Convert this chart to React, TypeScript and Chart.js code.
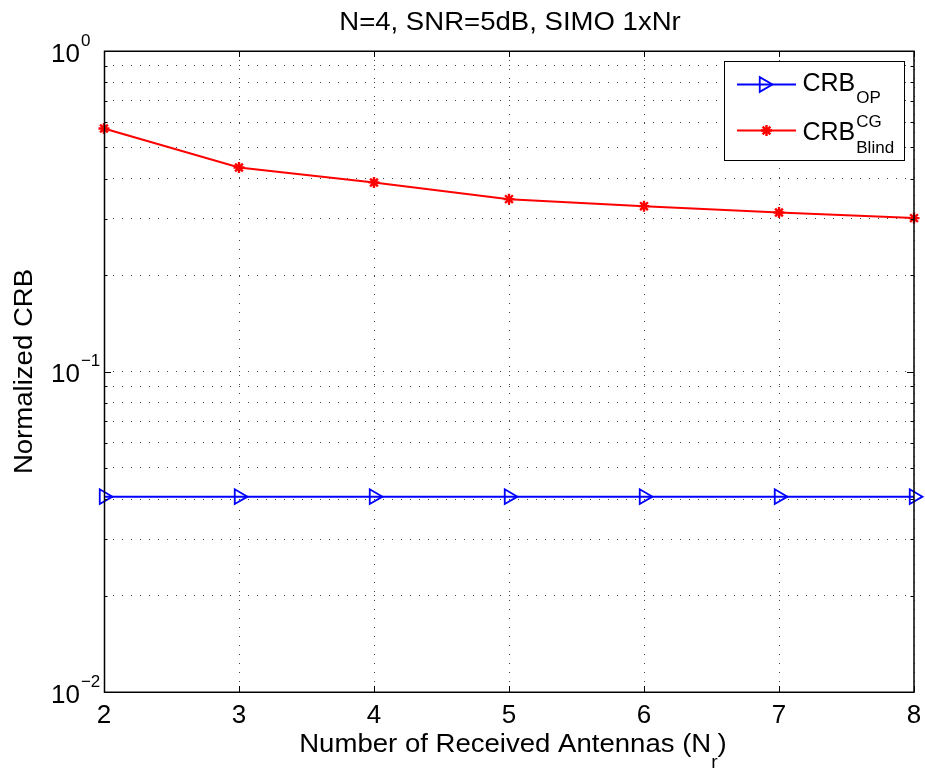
import React, { useEffect, useRef } from "react";
import { Chart, registerables } from "chart.js";

Chart.register(...registerables);

// ---- data ----
const antennas = [2, 3, 4, 5, 6, 7, 8];
const crbOP = [0.0407, 0.0407, 0.0407, 0.0407, 0.0407, 0.0407, 0.0407];
const crbBlind = [0.573, 0.433, 0.389, 0.345, 0.328, 0.3135, 0.301];

// ---- ticks / labels ----
const xTicks = [2, 3, 4, 5, 6, 7, 8];
const yDecades = [0.01, 0.1, 1];
const yDecadeExponents = ["\u22122", "\u22121", "0"];
const yMinorMultipliers = [2, 3, 4, 5, 6, 7, 8, 9];
const titleText = "N=4, SNR=5dB, SIMO 1xNr";
const xLabelMain = "Number of Received Antennas (N";
const xLabelSub = "r";
const xLabelEnd = ")";
const yLabelText = "Normalized CRB";
const legendBase = "CRB";
const legendOPSub = "OP";
const legendBlindSup = "CG";
const legendBlindSub = "Blind";

const FONT = '"Liberation Sans", Arial, Helvetica, sans-serif';
const STRETCH = 1.06;

function yTickValues(): number[] {
  const vals: number[] = [];
  for (let i = 0; i < yDecades.length; i++) {
    vals.push(yDecades[i]);
    if (i < yDecades.length - 1) {
      for (const m of yMinorMultipliers) vals.push(m * yDecades[i]);
    }
  }
  return vals;
}

function txt(
  ctx: CanvasRenderingContext2D,
  text: string,
  x: number,
  y: number,
  size: number,
  sx = 1,
  align: "left" | "center" | "right" = "left"
): number {
  ctx.save();
  ctx.font = `${size}px ${FONT}`;
  ctx.textAlign = "left";
  ctx.textBaseline = "alphabetic";
  ctx.fillStyle = "#000";
  const w = ctx.measureText(text).width * sx;
  const x0 = align === "center" ? x - w / 2 : align === "right" ? x - w : x;
  ctx.translate(x0, y);
  ctx.scale(sx, 1);
  ctx.fillText(text, 0, 0);
  ctx.restore();
  return w;
}

function measure(ctx: CanvasRenderingContext2D, text: string, size: number, sx = 1) {
  ctx.save();
  ctx.font = `${size}px ${FONT}`;
  const w = ctx.measureText(text).width * sx;
  ctx.restore();
  return w;
}

function drawTriangleRight(ctx: CanvasRenderingContext2D, x: number, y: number, r: number, color: string, lw: number) {
  ctx.save();
  ctx.strokeStyle = color;
  ctx.lineWidth = lw;
  ctx.setLineDash([]);
  ctx.beginPath();
  let rad = Math.PI / 2;
  ctx.moveTo(x + Math.sin(rad) * r, y - Math.cos(rad) * r);
  rad += (2 * Math.PI) / 3;
  ctx.lineTo(x + Math.sin(rad) * r, y - Math.cos(rad) * r);
  rad += (2 * Math.PI) / 3;
  ctx.lineTo(x + Math.sin(rad) * r, y - Math.cos(rad) * r);
  ctx.closePath();
  ctx.stroke();
  ctx.restore();
}

function drawStar(ctx: CanvasRenderingContext2D, x: number, y: number, r: number, color: string, lw: number) {
  ctx.save();
  ctx.strokeStyle = color;
  ctx.lineWidth = lw;
  ctx.setLineDash([]);
  ctx.beginPath();
  ctx.moveTo(x - r, y);
  ctx.lineTo(x + r, y);
  ctx.moveTo(x, y - r);
  ctx.lineTo(x, y + r);
  const d = r * Math.SQRT1_2;
  ctx.moveTo(x - d, y - d);
  ctx.lineTo(x + d, y + d);
  ctx.moveTo(x - d, y + d);
  ctx.lineTo(x + d, y - d);
  ctx.stroke();
  ctx.restore();
}

const decorPlugin = {
  id: "matlabDecor",
  afterDraw(chart: any) {
    const ctx: CanvasRenderingContext2D = chart.ctx;
    const a = chart.chartArea;
    const xs = chart.scales.x;
    const ys = chart.scales.y;
    ctx.save();

    // frame
    ctx.strokeStyle = "#000";
    ctx.lineWidth = 1.5;
    ctx.setLineDash([]);
    ctx.strokeRect(a.left + 0.5, a.top + 0.25, a.right - a.left - 0.5, a.bottom - a.top);

    // x ticks (inside, bottom and top)
    ctx.lineWidth = 1;
    ctx.beginPath();
    for (const v of xTicks) {
      const px = Math.round(xs.getPixelForValue(v)) + 0.5;
      ctx.moveTo(px, a.bottom);
      ctx.lineTo(px, a.bottom - 6);
      ctx.moveTo(px, a.top);
      ctx.lineTo(px, a.top + 6);
    }
    // y ticks (inside, left and right)
    for (const v of yTickValues()) {
      const py = Math.round(ys.getPixelForValue(v)) + 0.5;
      const len = yDecades.includes(v) ? 7 : 3.5;
      ctx.moveTo(a.left, py);
      ctx.lineTo(a.left + len, py);
      ctx.moveTo(a.right, py);
      ctx.lineTo(a.right - len, py);
    }
    ctx.stroke();

    // x tick labels
    for (const v of xTicks) {
      const px = xs.getPixelForValue(v);
      txt(ctx, String(v), px, 723, 26, 1, "center");
    }
    // y tick labels
    yDecades.forEach((v, i) => {
      const py = ys.getPixelForValue(v);
      const w = txt(ctx, "10", 51, py + 10.5, 26, 1, "left");
      txt(ctx, yDecadeExponents[i], 51 + w + 1, py - 5.5, 17, 1, "left");
    });

    // title
    txt(ctx, titleText, (a.left + a.right) / 2 + 1, 29.5, 26, STRETCH, "center");

    // x label
    const w1 = measure(ctx, xLabelMain, 26, STRETCH);
    const w2 = measure(ctx, xLabelSub, 18, STRETCH);
    const w3 = measure(ctx, xLabelEnd, 26, STRETCH);
    const total = w1 + w2 + w3;
    let sx0 = (a.left + a.right) / 2 + 4 - total / 2;
    txt(ctx, xLabelMain, sx0, 752, 26, STRETCH);
    sx0 += w1;
    txt(ctx, xLabelSub, sx0, 768, 18, STRETCH);
    sx0 += w2;
    txt(ctx, xLabelEnd, sx0, 752, 26, STRETCH);

    // y label (rotated)
    ctx.save();
    ctx.translate(31.5, (a.top + a.bottom) / 2);
    ctx.rotate(-Math.PI / 2);
    txt(ctx, yLabelText, 0, 0, 26, STRETCH, "center");
    ctx.restore();

    // legend
    const lx = 724.5, ly = 61.5, lw = 180, lh = 99;
    ctx.fillStyle = "#fff";
    ctx.fillRect(lx, ly, lw, lh);
    ctx.strokeStyle = "#000";
    ctx.lineWidth = 1;
    ctx.strokeRect(lx, ly, lw, lh);

    // entry 1
    ctx.strokeStyle = "#0000ff";
    ctx.lineWidth = 2;
    ctx.beginPath();
    ctx.moveTo(737, 84.5);
    ctx.lineTo(796, 84.5);
    ctx.stroke();
    drawTriangleRight(ctx, 764, 84.5, 8.5, "#0000ff", 1.8);
    let cw = txt(ctx, legendBase, 802.5, 91, 25);
    txt(ctx, legendOPSub, 802.5 + cw + 1, 102.7, 17);

    // entry 2
    ctx.strokeStyle = "#ff0000";
    ctx.lineWidth = 2;
    ctx.beginPath();
    ctx.moveTo(737, 130.5);
    ctx.lineTo(796, 130.5);
    ctx.stroke();
    drawStar(ctx, 766.5, 130.5, 5.5, "#ff0000", 2.4);
    cw = txt(ctx, legendBase, 802.5, 140, 25);
    txt(ctx, legendBlindSup, 802.5 + cw + 1, 127.3, 17);
    txt(ctx, legendBlindSub, 802.5 + cw + 1, 152.7, 17);

    ctx.restore();
  },
};

export default function App() {
  const ref = useRef<HTMLCanvasElement | null>(null);

  useEffect(() => {
    if (!ref.current) return;
    const chart = new Chart(ref.current, {
      type: "line",
      data: {
        datasets: [
          {
            label: "CRB_OP",
            data: antennas.map((x, i) => ({ x, y: crbOP[i] })),
            borderColor: "#0000ff",
            borderWidth: 2,
            pointStyle: "triangle",
            rotation: 90,
            pointRadius: 8.5,
            pointBorderWidth: 1.8,
            pointBorderColor: "#0000ff",
            pointBackgroundColor: "rgba(0,0,0,0)",
            clip: false,
          } as any,
          {
            label: "CRB_Blind^CG",
            data: antennas.map((x, i) => ({ x, y: crbBlind[i] })),
            borderColor: "#ff0000",
            borderWidth: 2,
            pointStyle: "star",
            pointRadius: 5.5,
            pointBorderWidth: 2.4,
            pointBorderColor: "#ff0000",
            pointBackgroundColor: "#ff0000",
            clip: false,
          } as any,
        ],
      },
      options: {
        responsive: false,
        animation: false,
        events: [],
        layout: { padding: { left: 0, right: 11, top: 51, bottom: 0 } },
        plugins: {
          legend: { display: false },
          title: { display: false },
          tooltip: { enabled: false },
        },
        scales: {
          x: {
            type: "linear",
            min: 2,
            max: 8,
            afterBuildTicks: (s: any) => {
              s.ticks = xTicks.map((v) => ({ value: v }));
            },
            afterFit: (s: any) => {
              s.height = 77;
            },
            ticks: { display: false },
            grid: { color: "#444", lineWidth: 1, drawTicks: false },
            border: { display: false, dash: [1, 8] },
          },
          y: {
            type: "logarithmic",
            min: 0.01,
            max: 1,
            afterBuildTicks: (s: any) => {
              s.ticks = yTickValues().map((v) => ({ value: v }));
            },
            afterFit: (s: any) => {
              s.width = 104;
            },
            ticks: { display: false },
            grid: { color: "#444", lineWidth: 1, drawTicks: false },
            border: { display: false, dash: [1, 8] },
          },
        },
      } as any,
      plugins: [decorPlugin],
    });
    return () => chart.destroy();
  }, []);

  return (
    <div style={{ position: "absolute", left: 0, top: 0, width: 925, height: 769, background: "#fff" }}>
      <canvas ref={ref} width={925} height={769} style={{ display: "block" }} />
    </div>
  );
}
